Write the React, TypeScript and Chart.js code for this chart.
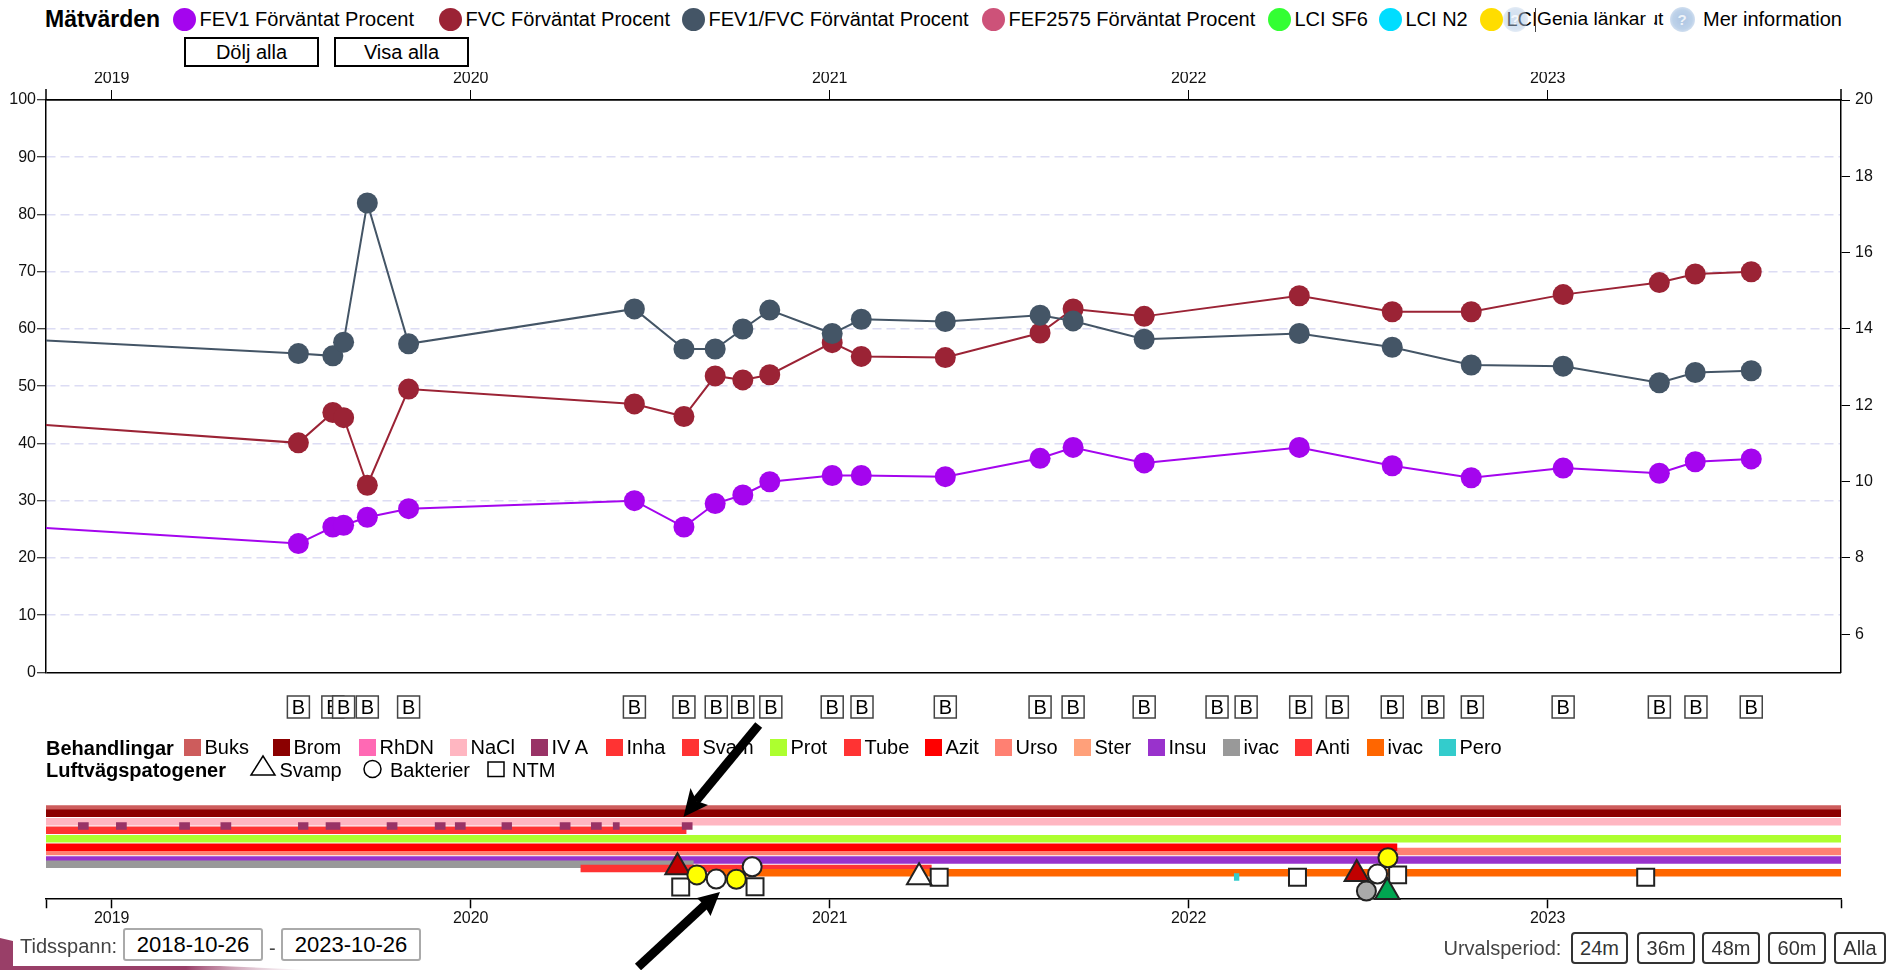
import React, { useEffect, useRef } from "react";
import { Chart, registerables } from "chart.js";

Chart.register(...registerables);

const FONT = '"Liberation Sans", Arial, sans-serif';

// ---- measurement data (decimal years, percent) ----
const minYear = 2018.817;
const maxYear = 2023.817;
const yearTicks = [2019, 2020, 2021, 2022, 2023];
const measureYears = [2018.6, 2019.52, 2019.616, 2019.646, 2019.712, 2019.827, 2020.456, 2020.594, 2020.681, 2020.758, 2020.833, 2021.007, 2021.088, 2021.322, 2021.586, 2021.678, 2021.876, 2022.308, 2022.567, 2022.787, 2023.043, 2023.311, 2023.411, 2023.567];
const fev1 = [26.05, 22.5, 25.4, 25.7, 27.1, 28.6, 30, 25.4, 29.5, 31, 33.3, 34.4, 34.4, 34.2, 37.4, 39.3, 36.6, 39.3, 36.1, 34, 35.7, 34.8, 36.8, 37.3];
const fvc = [44.2, 40.1, 45.4, 44.5, 32.7, 49.5, 46.9, 44.7, 51.8, 51.1, 52, 57.6, 55.2, 55, 59.3, 63.5, 62.2, 65.8, 63, 63, 66, 68.1, 69.6, 70];
const fev1fvc = [58.7, 55.7, 55.3, 57.7, 82, 57.4, 63.5, 56.5, 56.5, 60, 63.3, 59.2, 61.7, 61.3, 62.4, 61.4, 58.2, 59.2, 56.8, 53.7, 53.5, 50.6, 52.4, 52.7];
const leftTicks = [0, 10, 20, 30, 40, 50, 60, 70, 80, 90, 100];
const rightTicks = [6, 8, 10, 12, 14, 16, 18, 20];

// ---- "B" markers ----
const bYears = [2019.52, 2019.616, 2019.646, 2019.712, 2019.827, 2020.456, 2020.594, 2020.684, 2020.758, 2020.836, 2021.007, 2021.09, 2021.322, 2021.586, 2021.678, 2021.876, 2022.079, 2022.16, 2022.312, 2022.414, 2022.567, 2022.68, 2022.79, 2023.043, 2023.311, 2023.413, 2023.567];

// ---- treatments: lanes in legend order ----
const treatmentNames = ["Buks", "Brom", "RhDN", "NaCl", "IV A", "Inha", "Svam", "Prot", "Tube", "Azit", "Urso", "Ster", "Insu", "ivac", "Anti", "ivac", "Pero"];
const treatmentColours = ["#cd5c5c", "#8b0000", "#ff69b4", "#ffb6c1", "#993366", "#ff3333", "#ff3333", "#adff2f", "#ff3333", "#ff0000", "#ff8072", "#ffa07a", "#9932cc", "#999999", "#ff3333", "#ff6600", "#33cccc"];
const treatmentPeriods: number[][][] = [
  [[2018.817, 2023.817]],
  [[2018.817, 2023.817]],
  [],
  [[2018.817, 2023.817]],
  [[2018.907, 2018.935], [2019.013, 2019.041], [2019.189, 2019.217], [2019.304, 2019.332], [2019.52, 2019.547], [2019.597, 2019.636], [2019.767, 2019.795], [2019.901, 2019.929], [2019.957, 2019.985], [2020.087, 2020.114], [2020.249, 2020.277], [2020.336, 2020.364], [2020.397, 2020.414], [2020.589, 2020.617]],
  [[2018.817, 2020.6]],
  [],
  [[2018.817, 2023.817]],
  [],
  [[2018.817, 2022.58]],
  [[2018.817, 2023.817]],
  [],
  [[2018.817, 2023.817]],
  [[2018.817, 2020.62]],
  [[2020.307, 2021.283]],
  [[2020.667, 2023.817]],
  [[2022.127, 2022.14]],
];
const treatmentLegendX = [184, 273, 359, 450, 531, 606, 682, 770, 844, 925, 995, 1074, 1148, 1223, 1295, 1367, 1439];
const raisedTreatments = ["Azit", "IV A"];

// ---- pathogens ----
const ntmYears = [2020.585, 2020.792, 2021.305, 2022.303, 2022.582, 2023.273];
const ntmLanes = [18.35, 18.3, 16.07, 16.07, 15.5, 16.07];
const fungusYears = [2020.576, 2021.249, 2022.468, 2022.553];
const fungusLanes = [13.72, 16.07, 15.3, 19.5];
const fungusColours = ["#c00000", "#ffffff", "#c00000", "#00a651"];
const bacteriaYears = [2020.63, 2020.684, 2020.74, 2020.784, 2022.526, 2022.555];
const bacteriaLanes = [15.5, 16.47, 16.54, 13.58, 15.3, 11.46];
const bacteriaColours = ["#ffff00", "#ffffff", "#ffff00", "#ffffff", "#ffffff", "#ffff00"];
const greyYears = [2022.495];
const greyLanes = [19.3];

// ---- legends, labels ----
const measureNames = ["FEV1 Förväntat Procent", "FVC Förväntat Procent", "FEV1/FVC Förväntat Procent", "FEF2575 Förväntat Procent", "LCI SF6", "LCI N2", "LCI"];
const measureColours = ["#a405ee", "#9b2335", "#445566", "#cd5279", "#33ff33", "#00ddff", "#ffdd00"];
const measureCircleX = [184, 450, 693, 993, 1279, 1390, 1491];
const rangeButtons = ["24m", "36m", "48m", "60m", "Alla"];
const rangeButtonX = [1571, 1637, 1702, 1768, 1834];
const rangeButtonW = [57, 58, 58, 58, 52];

const LANE_TOP = -28;
const LANE_BOTTOM = 21;
const B_LANE = -24;

const setTicks = (values: number[]) => (scale: any) => {
  scale.ticks = values.map((value) => ({ value }));
};

const bBoxes = {
  id: "bBoxes",
  afterDatasetsDraw(chart: any) {
    const { ctx, scales } = chart;
    const y = scales.y.getPixelForValue(B_LANE);
    ctx.save();
    ctx.font = `20px ${FONT}`;
    ctx.textAlign = "center";
    ctx.textBaseline = "middle";
    bYears.forEach((year) => {
      const x = scales.x.getPixelForValue(year);
      ctx.fillStyle = "#ffffff";
      ctx.fillRect(x - 11, y - 11, 22, 22);
      ctx.strokeStyle = "#444444";
      ctx.lineWidth = 1.5;
      ctx.strokeRect(x - 11, y - 11, 22, 22);
      ctx.fillStyle = "#000000";
      ctx.fillText("B", x, y + 1);
    });
    ctx.restore();
  },
};

const axisStubs = {
  id: "axisStubs",
  afterDraw(chart: any) {
    const { ctx, chartArea } = chart;
    ctx.save();
    ctx.strokeStyle = "#000";
    ctx.lineWidth = 1.5;
    ctx.beginPath();
    ctx.moveTo(chartArea.left, chartArea.top);
    ctx.lineTo(chartArea.left, chartArea.top - 11);
    ctx.moveTo(chartArea.right, chartArea.top);
    ctx.lineTo(chartArea.right, chartArea.top - 11);
    ctx.stroke();
    ctx.restore();
  },
};

function Txt({ x, y, children, size = 20, bold, color = "#000" }: any) {
  return (
    <span style={{ position: "absolute", left: x, top: y, transform: "translateY(-50%)", fontFamily: FONT, fontSize: size, fontWeight: bold ? 700 : 400, color, whiteSpace: "pre", lineHeight: 1.15 }}>
      {children}
    </span>
  );
}

function Dot({ x, colour }: any) {
  return <div style={{ position: "absolute", left: x - 11.5, top: 8, width: 23, height: 23, borderRadius: "50%", background: colour }} />;
}

function Icon({ x, mark, alpha = 0.85 }: any) {
  return (
    <div style={{ position: "absolute", left: x - 12.5, top: 6.5, width: 25, height: 25, borderRadius: "50%", opacity: alpha, background: "radial-gradient(circle, rgba(160,188,222,1) 0%, rgba(178,202,230,1) 55%, rgba(205,220,238,0.85) 78%, rgba(225,233,244,0.35) 100%)", color: "rgba(255,255,255,0.8)", fontFamily: FONT, fontWeight: 700, fontSize: 15, lineHeight: "25px", textAlign: "center" }}>
      {mark}
    </div>
  );
}

function Box({ x, y, w, h, children, border = "2px solid #000", radius = 0, size = 20, color = "#000" }: any) {
  return (
    <div style={{ position: "absolute", left: x, top: y, width: w, height: h, boxSizing: "border-box", border, borderRadius: radius, background: "#fff", fontFamily: FONT, fontSize: size, color, display: "flex", alignItems: "center", justifyContent: "center" }}>
      {children}
    </div>
  );
}

export default function App() {
  const topRef = useRef<HTMLCanvasElement>(null);
  const bottomRef = useRef<HTMLCanvasElement>(null);

  useEffect(() => {
    const tickFont = { family: FONT, size: 16 };
    const series = [
      { label: "FEV1 Förväntat Procent", values: fev1, colour: measureColours[0], order: 3 },
      { label: "FVC Förväntat Procent", values: fvc, colour: measureColours[1], order: 2 },
      { label: "FEV1/FVC Förväntat Procent", values: fev1fvc, colour: measureColours[2], order: 1 },
    ];
    const top = new Chart(topRef.current as HTMLCanvasElement, {
      type: "line",
      data: {
        datasets: series.map((s) => ({
          label: s.label,
          data: s.values.map((y, i) => ({ x: measureYears[i], y })),
          borderColor: s.colour,
          backgroundColor: s.colour,
          borderWidth: 2,
          pointRadius: 10.5,
          pointBorderWidth: 0,
          order: s.order,
          yAxisID: "y",
        })),
      },
      options: {
        animation: false,
        responsive: false,
        events: [],
        layout: { autoPadding: false, padding: 0 },
        plugins: { legend: { display: false }, tooltip: { enabled: false } },
        scales: {
          x: {
            type: "linear",
            position: "top",
            min: minYear,
            max: maxYear,
            afterBuildTicks: setTicks(yearTicks),
            afterFit: (s: any) => { s.height = 28; },
            ticks: { autoSkip: false, maxRotation: 0, font: tickFont, color: "#111", padding: 2, callback: (v: any) => String(v) },
            grid: { drawOnChartArea: false, tickLength: 10, tickColor: "#000", tickWidth: 1 },
            border: { color: "#000", width: 1.5 },
          },
          y: {
            type: "linear",
            position: "left",
            min: 0,
            max: 100,
            afterBuildTicks: setTicks(leftTicks),
            afterFit: (s: any) => { s.width = 46; },
            ticks: { autoSkip: false, font: tickFont, color: "#111", padding: 1 },
            grid: {
              tickLength: 9,
              tickColor: "#000",
              tickWidth: 1,
              lineWidth: 1.5,
              color: (c: any) => (c.tick && (c.tick.value === 0 || c.tick.value === 100) ? "#000" : "#dcdcf4"),
            },
            border: {
              color: "#000",
              width: 1.5,
              dash: (c: any) => (c.tick && (c.tick.value === 0 || c.tick.value === 100) ? [] : [9, 5]),
            } as any,
          },
          yRight: {
            type: "linear",
            position: "right",
            min: 5,
            max: 20,
            afterBuildTicks: setTicks(rightTicks),
            afterFit: (s: any) => { s.width = 47; },
            ticks: { autoSkip: false, font: tickFont, color: "#111", padding: 5 },
            grid: { drawOnChartArea: false, tickLength: 9, tickColor: "#000", tickWidth: 1 },
            border: { color: "#000", width: 1.5 },
          },
        },
      } as any,
      plugins: [axisStubs],
    });

    const bars: any[] = [];
    treatmentNames.forEach((name, lane) => {
      if (treatmentPeriods[lane].length === 0) return;
      bars.push({
        type: "bar",
        label: name,
        indexAxis: "y",
        grouped: false,
        barThickness: 7,
        backgroundColor: treatmentColours[lane],
        borderWidth: 0,
        order: raisedTreatments.includes(name) ? 50 : 100 - lane,
        data: treatmentPeriods[lane].map((period) => ({ x: period, y: lane })),
      });
    });
    const marks = (label: string, years: number[], lanes: number[], style: string, radius: number, colours: any, order: number) => ({
      type: "scatter",
      label,
      data: years.map((x, i) => ({ x, y: lanes[i] })),
      pointStyle: style,
      pointRadius: radius,
      pointBackgroundColor: colours,
      pointBorderColor: "#222",
      pointBorderWidth: 2,
      clip: false,
      order,
    });
    const bottom = new Chart(bottomRef.current as HTMLCanvasElement, {
      type: "scatter",
      data: {
        datasets: [
          ...bars,
          marks("NTM", ntmYears, ntmLanes, "rect", 12, "#ffffff", -1),
          marks("Bakterier", greyYears, greyLanes, "circle", 9.5, "#aaaaaa", -2),
          marks("Svamp", fungusYears, fungusLanes, "triangle", 14, fungusColours, -3),
          marks("Bakterier", bacteriaYears, bacteriaLanes, "circle", 9.5, bacteriaColours, -4),
        ],
      },
      options: {
        animation: false,
        responsive: false,
        events: [],
        layout: { autoPadding: false, padding: { left: 46, right: 47 } },
        plugins: { legend: { display: false }, tooltip: { enabled: false } },
        scales: {
          x: {
            type: "linear",
            position: "bottom",
            min: minYear,
            max: maxYear,
            beginAtZero: false,
            afterBuildTicks: setTicks([minYear, ...yearTicks, maxYear]),
            afterFit: (s: any) => { s.height = 36.75; },
            ticks: { autoSkip: false, maxRotation: 0, font: tickFont, color: "#111", padding: 1, callback: (v: any) => (Number.isInteger(v) ? String(v) : "") },
            grid: { drawOnChartArea: false, tickLength: 10, tickColor: "#000", tickWidth: 1.5 },
            border: { color: "#000", width: 1.5 },
          },
          y: {
            type: "linear",
            display: false,
            reverse: true,
            offset: false,
            min: LANE_TOP,
            max: LANE_BOTTOM,
          },
        },
      } as any,
      plugins: [bBoxes],
    });
    return () => {
      top.destroy();
      bottom.destroy();
    };
  }, []);

  return (
    <div style={{ position: "absolute", left: 0, top: 0, width: 1888, height: 970, overflow: "hidden", background: "#fff" }}>
      <svg width={1888} height={970} style={{ position: "absolute", left: 0, top: 0 }}>
        <defs>
          <linearGradient id="band" x1="0" x2="1" y1="0" y2="0">
            <stop offset="0" stopColor="#993f68" />
            <stop offset="0.6" stopColor="#993f68" />
            <stop offset="1" stopColor="#d8b8c8" stopOpacity="0" />
          </linearGradient>
        </defs>
        <polygon points="0,938 13,941 13,966 220,966 310,970 0,970" fill="url(#band)" />
      </svg>
      <canvas ref={topRef} width={1888} height={615} style={{ position: "absolute", left: 0, top: 72, width: 1888, height: 615 }} />
      <canvas ref={bottomRef} width={1888} height={245} style={{ position: "absolute", left: 0, top: 690, width: 1888, height: 245 }} />

      <Txt x={45} y={19} size={23} bold>Mätvärden</Txt>
      {measureNames.map((name, i) => (
        <React.Fragment key={name}>
          <Dot x={measureCircleX[i]} colour={measureColours[i]} />
          <Txt x={measureCircleX[i] + 15.5} y={19}>{name}</Txt>
        </React.Fragment>
      ))}
      <span style={{ position: "absolute", left: 1535, top: 8, width: 132, height: 24, background: "#fff", borderLeft: "1px solid #444", boxSizing: "border-box" }} />
      <Txt x={1537} y={19} size={19.2}>{"Genia länkar "}<span style={{ marginLeft: -3.7 }}>ut</span></Txt>
      <div style={{ position: "absolute", left: 1647, top: 8, width: 6.5, height: 24, background: "#fff" }} />
      <Icon x={1515} mark="?" alpha={0.5} />
      <Icon x={1682} mark="?" />
      <Txt x={1703} y={19}>Mer information</Txt>

      <Box x={184} y={37} w={135} h={30}>Dölj alla</Box>
      <Box x={334} y={37} w={135} h={30}>Visa alla</Box>

      <Txt x={46} y={748} bold>Behandlingar</Txt>
      {treatmentNames.map((name, i) => (
        <React.Fragment key={i}>
          <div style={{ position: "absolute", left: treatmentLegendX[i], top: 739, width: 17, height: 17, background: treatmentColours[i] }} />
          <Txt x={treatmentLegendX[i] + 20.5} y={747}>{name}</Txt>
        </React.Fragment>
      ))}
      <Txt x={46} y={770} bold>Luftvägspatogener</Txt>
      <svg width={1888} height={970} style={{ position: "absolute", left: 0, top: 0, pointerEvents: "none" }}>
        <polygon points="263,756 275,775 251,775" fill="#fff" stroke="#000" strokeWidth={1.5} />
        <circle cx={372.5} cy={769} r={8.5} fill="#fff" stroke="#000" strokeWidth={1.5} />
        <rect x={488} y={762} width={16} height={14.5} fill="#fff" stroke="#000" strokeWidth={1.5} />
      </svg>
      <Txt x={279.5} y={770}>Svamp</Txt>
      <Txt x={390} y={770}>Bakterier</Txt>
      <Txt x={512} y={770}>NTM</Txt>

      <svg width={1888} height={970} style={{ position: "absolute", left: 0, top: 0, pointerEvents: "none" }}>
        <line x1={758.7} y1={725} x2={696} y2={801} stroke="#000" strokeWidth={9} />
        <polygon points="683.5,817 690.5,788 696.5,801 708,805" fill="#000" />
        <line x1={638} y1={967} x2={705} y2={905} stroke="#000" strokeWidth={9} />
        <polygon points="720,892 697,898 704,905 710.5,916" fill="#000" />
      </svg>

      <Txt x={20} y={946} color="#444">Tidsspann:</Txt>
      <Box x={123} y={928} w={140} h={33} border="2px solid #aaa" radius={3} size={22}>2018-10-26</Box>
      <Txt x={269} y={948} color="#444">-</Txt>
      <Box x={281} y={928} w={140} h={33} border="2px solid #aaa" radius={3} size={22}>2023-10-26</Box>

      <Txt x={1443.5} y={948} color="#444">Urvalsperiod:</Txt>
      {rangeButtons.map((label, i) => (
        <Box key={label} x={rangeButtonX[i]} y={932} w={rangeButtonW[i]} h={32} border="2px solid #333" radius={4} color="#333">{label}</Box>
      ))}
    </div>
  );
}
